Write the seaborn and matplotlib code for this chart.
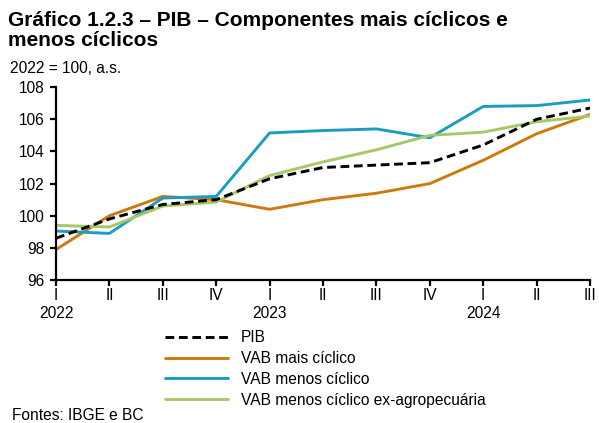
import numpy as np
import pandas as pd
import matplotlib
matplotlib.use("Agg")
import matplotlib.pyplot as plt
import seaborn as sns

# trimestres
quarters = ["I", "II", "III", "IV", "I", "II", "III", "IV", "I", "II", "III"]
years = ["2022", "", "", "", "2023", "", "", "", "2024", "", ""]

pib = [98.6, 99.8, 100.7, 101.0, 102.3, 103.0, 103.15, 103.3, 104.4, 106.0, 106.7]
vab_mais = [97.9, 100.0, 101.2, 101.0, 100.4, 101.0, 101.4, 102.0, 103.45, 105.1, 106.3]
vab_menos = [99.05, 98.9, 101.1, 101.2, 105.15, 105.3, 105.4, 104.85, 106.8, 106.85, 107.2]
vab_menos_ex = [99.4, 99.3, 100.6, 100.85, 102.5, 103.35, 104.1, 105.0, 105.2, 105.85, 106.2]

series = {
    "PIB": pib,
    "VAB mais cíclico": vab_mais,
    "VAB menos cíclico": vab_menos,
    "VAB menos cíclico ex-agropecuária": vab_menos_ex,
}
colors = {
    "PIB": "black",
    "VAB mais cíclico": "#CC7A0E",
    "VAB menos cíclico": "#1A9DBF",
    "VAB menos cíclico ex-agropecuária": "#A8C868",
}
dashes = {
    "PIB": (3, 1.6),
    "VAB mais cíclico": "",
    "VAB menos cíclico": "",
    "VAB menos cíclico ex-agropecuária": "",
}

df = pd.concat([
    pd.DataFrame({"t": np.arange(len(v)), "valor": v, "serie": k})
    for k, v in series.items()
])

sns.set_style("ticks")
plt.rcParams["font.family"] = ["Liberation Sans", "DejaVu Sans"]
plt.rcParams["text.color"] = "black"
FS = 11.2

fig = plt.figure(figsize=(5.99, 4.23), dpi=100)
ax = fig.add_axes([0.0935, 0.338, 0.8915, 0.456])

sns.lineplot(data=df, x="t", y="valor", hue="serie", style="serie",
             palette=colors, dashes=dashes, linewidth=2.1, ax=ax,
             legend=False, hue_order=list(series), style_order=list(series))
# PIB por cima
for line in ax.lines:
    if line.get_color() == "black":
        line.set_zorder(5)

ax.set_xlim(0, len(quarters) - 1)
ax.set_ylim(96, 108)
ax.set_yticks(np.arange(96, 109, 2))
ax.set_xticks(np.arange(len(quarters)))
ax.set_xticklabels([f"{q}\n{y}" for q, y in zip(quarters, years)])
ax.set_xlabel("")
ax.set_ylabel("")
for s in ["top", "right"]:
    ax.spines[s].set_visible(False)
for s in ["left", "bottom"]:
    ax.spines[s].set_linewidth(1.6)
    ax.spines[s].set_color("black")
ax.tick_params(axis="both", labelsize=FS, width=1.6, length=4, color="black",
               labelcolor="black", pad=4)
ax.tick_params(axis="x", pad=2)

handles = [
    plt.Line2D([], [], color=colors[k], linewidth=2.1,
               linestyle=(0, dashes[k]) if dashes[k] else "-")
    for k in series
]
fig.legend(handles, list(series), loc="upper left", bbox_to_anchor=(0.262, 0.238),
           frameon=False, fontsize=FS, handlelength=4.1, handletextpad=0.8,
           labelspacing=0.38, borderpad=0, labelcolor="black")

fig.text(0.013, 0.974, "Gráfico 1.2.3 – PIB – Componentes mais cíclicos e\nmenos cíclicos",
         fontsize=15, fontweight="bold", va="top", ha="left", linespacing=1.1,
         color="black")
fig.text(0.017, 0.82, "2022 = 100, a.s.", fontsize=FS, va="bottom", ha="left",
         color="black")
fig.text(0.02, 0.0, "Fontes: IBGE e BC", fontsize=FS, va="bottom", ha="left",
         color="black")

fig.savefig("out.png", dpi=100)
